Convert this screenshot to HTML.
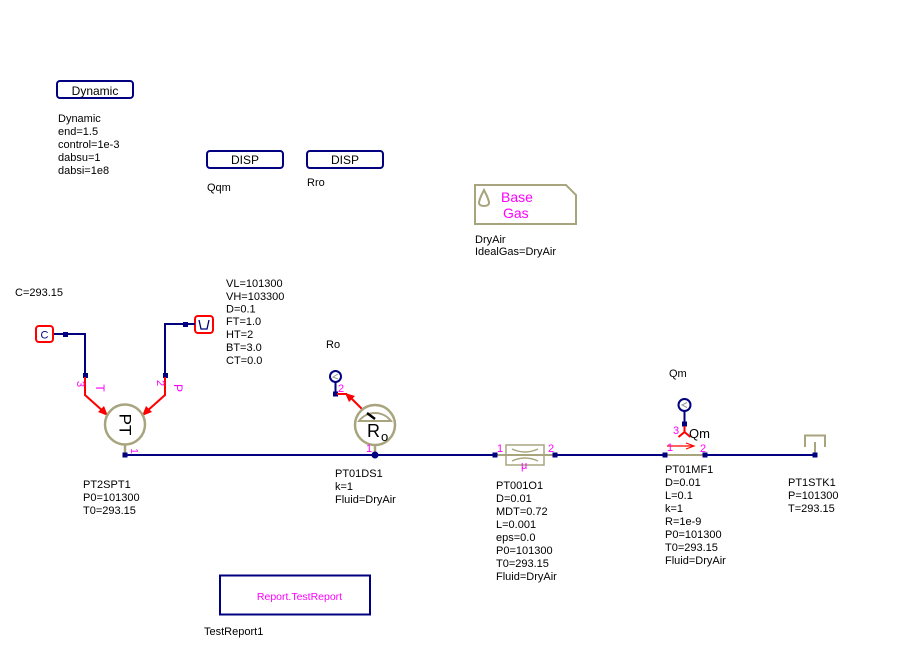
<!DOCTYPE html>
<html><head><meta charset="utf-8"><style>
html,body{margin:0;padding:0;background:#fff;}
svg{display:block;}
text{font-family:"Liberation Sans",sans-serif;font-size:11px;fill:#000;}
.m{fill:#ff00ff;}
</style></head><body>
<svg width="900" height="658" viewBox="0 0 900 658" xmlns="http://www.w3.org/2000/svg">
<!-- Dynamic -->
<rect x="57" y="81" width="76" height="17" rx="3" fill="none" stroke="#000080" stroke-width="2"/>
<text x="95" y="95" text-anchor="middle" style="font-size:12px">Dynamic</text>
<text x="58" y="122">Dynamic</text>
<text x="58" y="135">end=1.5</text>
<text x="58" y="148">control=1e-3</text>
<text x="58" y="161">dabsu=1</text>
<text x="58" y="174">dabsi=1e8</text>

<!-- DISP -->
<rect x="207" y="151" width="76" height="17" rx="3" fill="none" stroke="#000080" stroke-width="2"/>
<text x="245" y="164" text-anchor="middle" style="font-size:12px">DISP</text>
<text x="207" y="191">Qqm</text>
<rect x="307" y="151" width="76" height="17" rx="3" fill="none" stroke="#000080" stroke-width="2"/>
<text x="345" y="164" text-anchor="middle" style="font-size:12px">DISP</text>
<text x="307" y="186">Rro</text>

<!-- Base Gas -->
<path d="M475 185 L566 185 L576 195 L576 224 L475 224 Z" fill="none" stroke="#a8a57e" stroke-width="2"/>
<path d="M484 190 C481 196 479 200 479 203 C479 207 489 207 489 203 C489 200 487 196 484 190 Z" fill="none" stroke="#a8a57e" stroke-width="2"/>
<text x="501" y="202" class="m" style="font-size:14px">Base</text>
<text x="503" y="218" class="m" style="font-size:14px">Gas</text>
<text x="475" y="243">DryAir</text>
<text x="475" y="255">IdealGas=DryAir</text>

<!-- C=293.15 -->
<text x="15" y="296">C=293.15</text>

<!-- C source -->
<rect x="36" y="326" width="17" height="16" rx="3" fill="none" stroke="#ff0000" stroke-width="2"/>
<text x="44.5" y="338.5" text-anchor="middle" style="fill:#000080;font-size:11px">C</text>
<polyline points="54,334 85,334 85,375" fill="none" stroke="#000080" stroke-width="2"/>
<rect x="63" y="332" width="5" height="5" fill="#000080"/>
<rect x="83" y="373" width="5" height="5" fill="#000080"/>
<polyline points="85,377 85,395 104,412" fill="none" stroke="#ff0000" stroke-width="2"/>
<polygon points="108,416 98,412 104,406" fill="#ff0000"/>
<text transform="translate(77,384) rotate(90)" text-anchor="middle" class="m" style="font-size:11px">3</text>
<text transform="translate(96,388) rotate(90)" text-anchor="middle" class="m" style="font-size:12px">T</text>

<!-- V source -->
<rect x="195" y="316" width="18" height="17" rx="3" fill="none" stroke="#ff0000" stroke-width="2"/>
<path d="M199 320 L201 329 L207 329 L209 320" fill="none" stroke="#000080" stroke-width="1.3"/>
<polyline points="195,324 165,324 165,375" fill="none" stroke="#000080" stroke-width="2"/>
<rect x="183" y="322" width="5" height="5" fill="#000080"/>
<rect x="163" y="373" width="5" height="5" fill="#000080"/>
<polyline points="165,377 165,395 146,412" fill="none" stroke="#ff0000" stroke-width="2"/>
<polygon points="142,416 146,406 152,412" fill="#ff0000"/>
<text transform="translate(157,383) rotate(90)" text-anchor="middle" class="m" style="font-size:11px">2</text>
<text transform="translate(174,388) rotate(90)" text-anchor="middle" class="m" style="font-size:12px">P</text>

<!-- VL params -->
<text x="226" y="287">VL=101300</text>
<text x="226" y="300">VH=103300</text>
<text x="226" y="312.5">D=0.1</text>
<text x="226" y="325">FT=1.0</text>
<text x="226" y="338">HT=2</text>
<text x="226" y="351">BT=3.0</text>
<text x="226" y="364">CT=0.0</text>

<!-- Main pipe -->
<line x1="125" y1="455" x2="495" y2="455" stroke="#000080" stroke-width="2"/>
<line x1="555" y1="455" x2="665" y2="455" stroke="#000080" stroke-width="2"/>
<line x1="705" y1="455" x2="815" y2="455" stroke="#000080" stroke-width="2"/>

<!-- PT circle -->
<circle cx="125" cy="424.5" r="20" fill="#fff" stroke="#a8a57e" stroke-width="2.5"/>
<line x1="125" y1="445" x2="125" y2="455" stroke="#a8a57e" stroke-width="2.5"/>
<text transform="translate(125,424.5) rotate(90)" text-anchor="middle" dominant-baseline="central" style="font-size:17px">PT</text>
<rect x="122.5" y="452.5" width="5" height="5" fill="#000080"/>
<text transform="translate(131,451) rotate(90)" text-anchor="middle" class="m" style="font-size:10px">1</text>
<text x="83" y="488">PT2SPT1</text>
<text x="83" y="501">P0=101300</text>
<text x="83" y="514">T0=293.15</text>

<!-- Ro sensor -->
<text x="326" y="348">Ro</text>
<circle cx="335.5" cy="376.5" r="5.5" fill="#fff" stroke="#000080" stroke-width="2"/>
<path d="M338 374 L333 377 L338 379" fill="none" stroke="#999" stroke-width="1"/>
<line x1="335.5" y1="382" x2="335.5" y2="394" stroke="#000080" stroke-width="2"/>
<rect x="333" y="391.5" width="5" height="5" fill="#000080"/>
<line x1="337" y1="394" x2="347" y2="394" stroke="#ff0000" stroke-width="2"/>
<line x1="362" y1="409" x2="350" y2="397" stroke="#ff0000" stroke-width="2"/>
<polygon points="345,393 355,396 349,402" fill="#ff0000"/>
<text x="338" y="392" class="m" style="font-size:11px">2</text>
<circle cx="375" cy="425" r="20" fill="#fff" stroke="#a8a57e" stroke-width="2.5"/>
<path d="M359 421 A20 20 0 0 1 391 421 Z" fill="none" stroke="#a8a57e" stroke-width="2"/>
<line x1="367" y1="413" x2="375" y2="419" stroke="#000" stroke-width="2.5"/>
<text x="367" y="437" style="font-size:18px">R</text>
<text x="381" y="441" style="font-size:13px">o</text>
<line x1="375" y1="445" x2="375" y2="455" stroke="#a8a57e" stroke-width="2.5"/>
<circle cx="375" cy="455" r="3.5" fill="#000080"/>
<text x="366" y="452" class="m" style="font-size:11px">1</text>
<text x="335" y="477">PT01DS1</text>
<text x="335" y="490">k=1</text>
<text x="335" y="503">Fluid=DryAir</text>

<!-- Orifice -->
<line x1="495" y1="455" x2="555" y2="455" stroke="#a8a57e" stroke-width="2"/>
<rect x="506" y="445" width="38" height="20" fill="none" stroke="#a8a57e" stroke-width="1.5"/>
<path d="M512 449 Q525 455 538 449" fill="none" stroke="#a8a57e" stroke-width="1.5"/>
<path d="M512 461 Q525 455 538 461" fill="none" stroke="#a8a57e" stroke-width="1.5"/>
<rect x="492.5" y="452.5" width="5" height="5" fill="#000080"/>
<rect x="552.5" y="452.5" width="5" height="5" fill="#000080"/>
<text x="497" y="452" class="m" style="font-size:11px">1</text>
<text x="548" y="452" class="m" style="font-size:11px">2</text>
<text x="521" y="469" class="m" style="font-size:11px">μ</text>
<text x="496" y="489">PT001O1</text>
<text x="496" y="502">D=0.01</text>
<text x="496" y="515">MDT=0.72</text>
<text x="496" y="528">L=0.001</text>
<text x="496" y="541">eps=0.0</text>
<text x="496" y="554">P0=101300</text>
<text x="496" y="567">T0=293.15</text>
<text x="496" y="580">Fluid=DryAir</text>

<!-- Flow meter -->
<text x="669" y="377">Qm</text>
<circle cx="684.5" cy="405" r="6" fill="#fff" stroke="#000080" stroke-width="2"/>
<path d="M687 402.5 L682 405 L687 407.5" fill="none" stroke="#999" stroke-width="1"/>
<line x1="684.5" y1="411" x2="684.5" y2="424" stroke="#000080" stroke-width="2"/>
<rect x="682" y="421.5" width="5" height="5" fill="#000080"/>
<polyline points="684.5,426 684.5,432" fill="none" stroke="#ff0000" stroke-width="2"/>
<polyline points="678.5,437 684.5,432 690.5,437" fill="none" stroke="#ff0000" stroke-width="2"/>
<text x="673" y="434" class="m" style="font-size:11px">3</text>
<text x="689" y="438" style="font-size:13px">Qm</text>
<line x1="667" y1="446" x2="693" y2="446" stroke="#ff0000" stroke-width="1.2"/>
<polyline points="686,443 694,446 686,449" fill="none" stroke="#ff0000" stroke-width="1.2"/>
<text x="667" y="451" class="m" style="font-size:11px">1</text>
<text x="700" y="452" class="m" style="font-size:11px">2</text>
<line x1="665" y1="455" x2="705" y2="455" stroke="#a8a57e" stroke-width="2"/>
<rect x="662.5" y="452.5" width="5" height="5" fill="#000080"/>
<rect x="702.5" y="452.5" width="5" height="5" fill="#000080"/>
<text x="665" y="473">PT01MF1</text>
<text x="665" y="486">D=0.01</text>
<text x="665" y="499">L=0.1</text>
<text x="665" y="512">k=1</text>
<text x="665" y="525">R=1e-9</text>
<text x="665" y="538">P0=101300</text>
<text x="665" y="551">T0=293.15</text>
<text x="665" y="564">Fluid=DryAir</text>

<!-- Tank -->
<polyline points="805,447 805,435.5 825,435.5 825,447" fill="none" stroke="#a8a57e" stroke-width="2"/>
<line x1="815" y1="442" x2="815" y2="455" stroke="#a8a57e" stroke-width="2"/>
<rect x="812.5" y="452.5" width="5" height="5" fill="#000080"/>
<text x="788" y="486">PT1STK1</text>
<text x="788" y="499">P=101300</text>
<text x="788" y="512">T=293.15</text>

<!-- Report -->
<rect x="220" y="575.5" width="150" height="39" fill="none" stroke="#000080" stroke-width="2"/>
<text x="299.5" y="600" text-anchor="middle" class="m" style="font-size:10.5px">Report.TestReport</text>
<text x="204" y="635">TestReport1</text>
</svg>
</body></html>
